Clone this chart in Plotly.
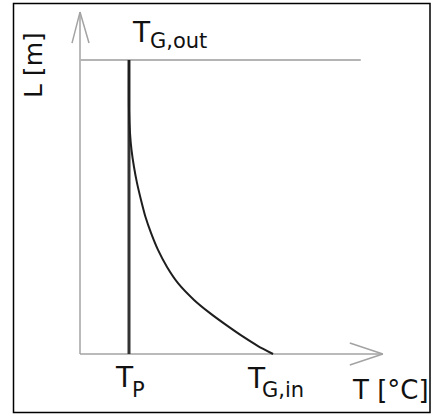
import plotly.graph_objects as go

# ---------------- data (T in arbitrary units, L normalised) ----------------
T_P = 1.0            # plate temperature
T_G_IN = 3.94        # gas inlet temperature
L_TOP = 1.0          # top of the column (gas outlet)
curve_T = [1.0, 1.0, 1.020, 1.051, 1.102, 1.163, 1.245, 1.337, 1.449, 1.592, 1.776,
           2.0, 2.327, 2.653, 2.980, 3.337, 3.633, 3.94]
curve_L = [1.0, 0.830, 0.752, 0.694, 0.636, 0.582, 0.524, 0.466, 0.412, 0.354, 0.296,
           0.241, 0.184, 0.139, 0.099, 0.058, 0.027, 0.0]
plate_T = [T_P, T_P]
plate_L = [0.0, L_TOP]
T_AXIS_END = 6.18
L_AXIS_END = 1.163
TOP_LINE_END = 5.73

# ---------------- pixel <-> data helpers (layout only) ----------------
W, H = 431, 414
X0PX, Y0PX, SX, SY = 80.0, 354.0, 49.0, 294.0


def px2x(px):
    return (px - X0PX) / SX


def py2y(py):
    return (Y0PX - py) / SY


FONT = "DejaVu Sans"
AX_COL = "#a3a3a3"

fig = go.Figure()

# axes
fig.add_trace(go.Scatter(x=[0, 0], y=[0, L_AXIS_END], mode="lines",
                         line=dict(color=AX_COL, width=1.5), hoverinfo="skip"))
fig.add_trace(go.Scatter(x=[0, T_AXIS_END], y=[0, 0], mode="lines",
                         line=dict(color=AX_COL, width=1.5), hoverinfo="skip"))
# arrow heads (open chevrons)
fig.add_trace(go.Scatter(x=[-8 / SX, 0, 9 / SX], y=[L_AXIS_END - 31 / SY, L_AXIS_END, L_AXIS_END - 31 / SY],
                         mode="lines", line=dict(color=AX_COL, width=1.5), hoverinfo="skip"))
fig.add_trace(go.Scatter(x=[T_AXIS_END - 33 / SX, T_AXIS_END, T_AXIS_END - 33 / SX],
                         y=[11 / SY, 0, -11 / SY],
                         mode="lines", line=dict(color=AX_COL, width=1.5), hoverinfo="skip"))
# top line (L = L_TOP)
fig.add_trace(go.Scatter(x=[0, TOP_LINE_END], y=[L_TOP, L_TOP], mode="lines",
                         line=dict(color="#b4b4b4", width=2), hoverinfo="skip"))
# plate temperature (vertical)
fig.add_trace(go.Scatter(x=plate_T, y=plate_L, mode="lines",
                         line=dict(color="#333333", width=3), hoverinfo="skip"))
# gas temperature curve
fig.add_trace(go.Scatter(x=curve_T, y=curve_L, mode="lines",
                         line=dict(color="#1e1e1e", width=2, shape="spline", smoothing=0.6),
                         hoverinfo="skip"))

ann = []


def label(text, xpx, ypx, size, xanchor="left", angle=0):
    ann.append(dict(x=px2x(xpx), y=py2y(ypx), xref="x", yref="y", text=text,
                    showarrow=False, xanchor=xanchor, yanchor="middle", textangle=angle,
                    font=dict(family=FONT, size=size, color="#111111")))


MAIN, SUB = 28, 21
# T_G,out
label("T", 130, 32.5, MAIN)
label("G,out", 148, 41, SUB)
# T_P
label("T", 113, 377.7, MAIN)
label("P", 130, 390, SUB)
# T_G,in
label("T", 245, 378, MAIN)
label("G,in", 260, 390, SUB)
# axis titles
label("T [°C]", 390, 390, 26, xanchor="center")
label("L [m]", 33, 65, 25, xanchor="center", angle=-90)

fig.update_layout(
    width=W, height=H,
    margin=dict(l=0, r=0, t=0, b=0),
    paper_bgcolor="white", plot_bgcolor="white",
    showlegend=False,
    xaxis=dict(range=[px2x(0), px2x(W)], visible=False, fixedrange=True),
    yaxis=dict(range=[py2y(H), py2y(0)], visible=False, fixedrange=True),
    annotations=ann,
    shapes=[dict(type="rect", xref="paper", yref="paper",
                 x0=13.5 / W, x1=430 / W, y0=1 - 412.5 / H, y1=1 - 3.5 / H,
                 line=dict(color="black", width=1.5))],
)

fig.write_html("out.html", config={"displayModeBar": False, "staticPlot": True},
               post_script="document.body.style.margin='0px';")
